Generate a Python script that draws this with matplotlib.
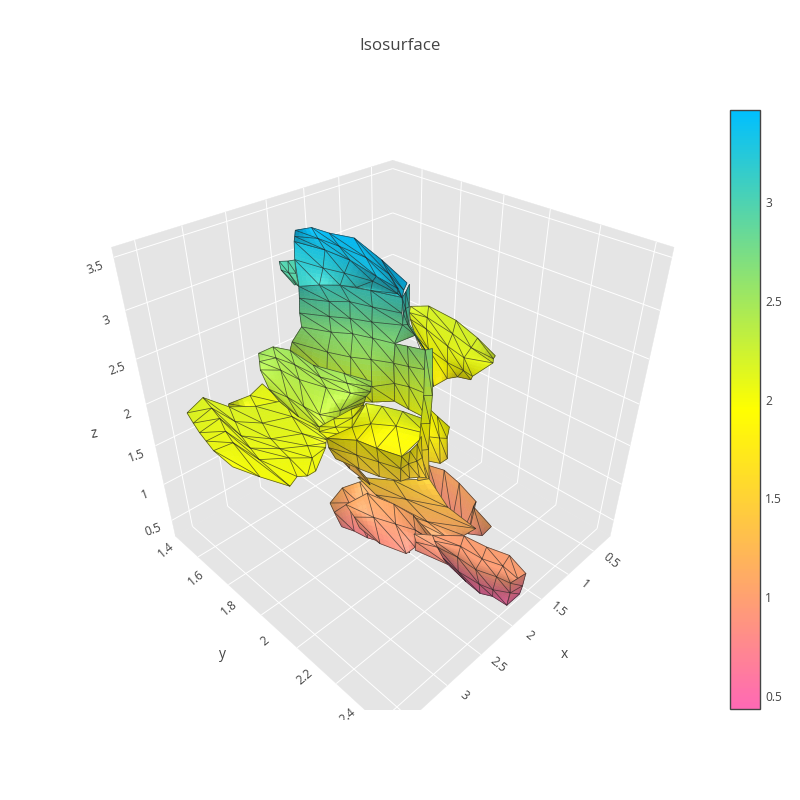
import numpy as np
import matplotlib
matplotlib.use('Agg')
import matplotlib.pyplot as plt
from matplotlib.colors import LinearSegmentedColormap, Normalize
from matplotlib.cm import ScalarMappable
from matplotlib.patches import Rectangle
from mpl_toolkits.mplot3d import proj3d
from mpl_toolkits.mplot3d.art3d import Poly3DCollection, Line3DCollection

plt.rcParams['font.family'] = ['Open Sans', 'DejaVu Sans']
TXT = '#444444'

x_range = (0.157, 3.73)
y_range = (1.24, 2.46)
z_range = (0.268, 3.59)
x_ticks = [0.5, 1, 1.5, 2, 2.5, 3, 3.5]
y_ticks = [1.4, 1.6, 1.8, 2, 2.2, 2.4]
z_ticks = [0.5, 1, 1.5, 2, 2.5, 3, 3.5]
cb_ticks = [0.5, 1, 1.5, 2, 2.5, 3]
cb_labels = ['0.5', '1', '1.5', '2', '2.5', '3']
value_min, value_max = 0.434, 3.466

# surface pieces, rows of vertices, z is one value per row
pink_back_x = [[1.52,1.46,1.51,1.61,1.69,1.79],[1.59,1.67,1.77,1.84,1.81,1.73]]
pink_back_y = [[1.90,1.96,2.05,2.16,2.17,2.28],[1.90,2.01,2.10,2.17,2.19,2.23]]
pink_back_z = [1.1,0.85]
pink_left_x = [[2.75,2.50,2.30,2.07,2.03],[2.70,2.49,2.43,2.36,2.36],[2.61,2.56,2.53,2.44,2.37]]
pink_left_y = [[1.81,1.78,1.80,1.86,1.98],[1.81,1.81,1.88,1.96,2.08],[1.81,1.86,1.92,1.99,2.08]]
pink_left_z = [1.15,1.0,0.75]
neck_x = [[2.56,2.34,2.07],[2.45,2.28,2.07],[2.35,2.24,1.97],[2.28,2.18,2.04]]
neck_y = [[1.89,1.99,2.07],[1.94,2.03,2.16],[2.02,2.12,2.26],[2.15,2.19,2.23]]
neck_z = [1.5,1.3,1.15,1.05]
pink_under_x = [[2.20,2.28,2.38],[2.23,2.31,2.34]]
pink_under_y = [[1.58,1.73,1.87],[1.62,1.75,1.87]]
pink_under_z = [1.35,1.25]
pink_front_x = [[2.61,2.33,2.25,2.23,2.31],[2.60,2.46,2.37,2.29,2.28],[2.56,2.57,2.48,2.35,2.16]]
pink_front_y = [[1.84,1.85,1.96,2.05,2.16],[1.88,1.93,2.01,2.08,2.15],[1.89,2.00,2.10,2.10,2.11]]
pink_front_z = [1.1,1.0,0.85]
tail_left_x = [[2.34,2.22],[2.37,2.27],[2.38,2.29]]
tail_left_y = [[2.09,2.14],[2.11,2.18],[2.11,2.24]]
tail_left_z = [1.0,0.95,0.85]
tail_x = [[2.22,2.00,1.96,1.89,1.97],[2.25,2.12,2.10,2.03,2.06],[2.27,2.23,2.23,2.16,2.13],
          [2.10,2.13,2.11,2.07,1.98],[2.01,2.06,2.08,2.02,2.01]]
tail_y = [[2.14,2.22,2.31,2.39,2.48],[2.16,2.24,2.33,2.40,2.47],[2.18,2.26,2.34,2.41,2.46],
          [2.16,2.24,2.33,2.38,2.43],[2.16,2.26,2.33,2.37,2.43]]
tail_z = [1.0,0.98,0.95,0.65,0.5]
tail_cap_x = [[2.09,1.88],[2.02,1.86],[2.01,1.80]]
tail_cap_y = [[2.45,2.46],[2.44,2.45],[2.43,2.43]]
tail_cap_z = [0.9,0.7,0.5]
wing_right_x = [[0.56,0.40,0.44,0.58,0.74],[0.61,0.55,0.63,0.72,0.73],[0.65,0.69,0.81,0.87,0.73],
                [0.73,0.87,0.94,0.94,0.96],[0.87,1.16,0.93,0.82,0.76]]
wing_right_y = [[1.48,1.53,1.69,1.84,1.97],[1.49,1.57,1.73,1.85,1.96],[1.51,1.61,1.76,1.86,1.96],
                [1.56,1.68,1.80,1.88,1.93],[1.70,1.80,1.80,1.82,1.87]]
wing_right_z = [2.2,2.15,2.1,2.0,1.8]
stub_x = [[1.74,1.78,1.83],[1.93,1.87,1.82],[1.97,1.91,1.80]]
stub_y = [[1.96,2.01,2.08],[2.02,2.05,2.07],[2.03,2.07,2.07]]
stub_z = [2.0,1.85,1.6]
tower_x = [[2.38,2.22,2.08,1.95,1.84],[2.34,2.18,2.04,1.96,1.85],[2.35,2.19,2.07,1.97,1.80],
           [2.34,2.20,2.07,1.99,1.91],[2.43,2.31,2.21,2.10,1.99],[2.33,2.31,2.22,2.15,1.95],
           [2.29,2.34,2.26,2.12,1.95]]
tower_y = [[1.56,1.60,1.65,1.75,1.86],[1.54,1.63,1.68,1.76,1.86],[1.54,1.63,1.69,1.76,1.85],
           [1.54,1.64,1.70,1.77,1.85],[1.52,1.66,1.74,1.80,1.87],[1.45,1.65,1.74,1.82,1.86],
           [1.42,1.66,1.75,1.81,1.86]]
tower_z = [3.1,2.95,2.8,2.65,2.5,2.25,2.05]
panel_x = [[1.91,1.86,1.79],[1.93,1.87,1.80],[1.95,1.89,1.86],[1.95,1.95,1.94]]
panel_y = [[1.85,1.89,1.95],[1.85,1.90,1.95],[1.86,1.91,1.98],[1.86,1.93,2.01]]
panel_z = [2.65,2.45,2.25,2.05]
shoulder_x = [[2.00,1.89,1.75],[1.92,1.83,1.78],[1.87,1.83,1.81],[1.98,1.72,1.86]]
shoulder_y = [[1.91,1.89,1.86],[1.89,1.87,1.87],[1.87,1.88,1.88],[1.87,1.88,1.97]]
shoulder_z = [3.2,3.0,2.85,2.7]
fin_lower_x = [[2.06,1.98,1.97,2.04,2.08,2.18],[2.16,2.09,2.02,1.95,1.97,2.00],[2.38,2.22,2.08,2.00,1.95,1.84]]
fin_lower_y = [[1.41,1.54,1.66,1.81,1.92,1.97],[1.45,1.57,1.65,1.76,1.88,1.91],[1.56,1.60,1.65,1.70,1.75,1.86]]
fin_lower_z = [3.32,3.2,3.1]
fin_top_x = [[2.08,1.92,1.89,1.80,1.97,2.15],[2.07,1.94,1.92,1.92,2.02,2.16],[2.06,1.98,1.97,2.04,2.08,2.18]]
fin_top_y = [[1.43,1.45,1.53,1.62,1.81,1.98],[1.42,1.49,1.59,1.72,1.86,1.97],[1.41,1.54,1.66,1.81,1.92,1.97]]
fin_top_z = [3.45,3.38,3.32]
tab_x = [[2.01,1.94,1.87],[2.06,2.05,2.00],[2.12,2.10,2.11]]
tab_y = [[1.29,1.31,1.32],[1.32,1.36,1.38],[1.42,1.42,1.44]]
tab_z = [3.0,2.95,2.9]
wing_back_x = [[3.21,2.97,2.75],[3.20,3.02,2.77]]
wing_back_y = [[1.49,1.50,1.47],[1.48,1.56,1.60]]
wing_back_z = [2.1,2.05]
wing_front_x = [[3.63,3.37,3.28,3.09,2.83,2.86],[3.66,3.39,3.36,3.19,2.92,2.88],[3.69,3.42,3.44,3.27,3.01,2.91],
                [3.70,3.48,3.47,3.28,3.07,2.92],[3.72,3.52,3.50,3.29,3.14,2.95],[3.70,3.61,3.50,3.37,3.30,3.20]]
wing_front_y = [[1.46,1.42,1.53,1.59,1.63,1.83],[1.51,1.48,1.60,1.67,1.71,1.85],[1.56,1.54,1.67,1.75,1.80,1.88],
                [1.60,1.60,1.73,1.80,1.85,1.88],[1.65,1.66,1.79,1.85,1.90,1.89],[1.74,1.84,1.94,1.92,1.94,1.94]]
wing_front_z = [2.15,2.12,2.1,2.07,2.05,2.0]
lobe_x = [[2.81,2.63,2.55,2.57,2.46,2.37],[2.85,2.69,2.64,2.61,2.50,2.38],[2.89,2.75,2.73,2.64,2.54,2.39],
          [2.95,2.91,2.90,2.88,2.70,2.37],[2.92,2.95,2.92,2.87,2.69,2.34]]
lobe_y = [[1.50,1.50,1.56,1.69,1.80,1.90],[1.52,1.54,1.62,1.74,1.83,1.90],[1.54,1.59,1.68,1.78,1.86,1.90],
          [1.61,1.69,1.77,1.84,1.87,1.87],[1.65,1.76,1.85,1.87,1.86,1.85]]
lobe_z = [2.5,2.45,2.4,2.3,2.2]
lattice_x = [[2.82,2.64,2.41,2.23],[2.83,2.67,2.45,2.22],[2.80,2.67,2.51,2.18]]
lattice_y = [[1.81,1.81,1.81,1.81],[1.81,1.83,1.83,1.80],[1.84,1.85,1.85,1.79]]
lattice_z = [2.1,2.05,2.0]
block_top_x = [[2.29,2.21,2.13,2.07],[2.51,2.34,2.19,2.07],[2.67,2.48,2.43,2.35]]
block_top_y = [[1.84,1.89,1.96,2.05],[1.85,1.88,1.95,2.05],[1.78,1.86,1.94,2.03]]
block_top_z = [2.15,2.0,1.85]
block_front_x = [[2.67,2.48,2.43,2.35],[2.58,2.46,2.38,2.30],[2.52,2.46,2.40,2.30]]
block_front_y = [[1.78,1.86,1.94,2.03],[1.75,1.85,1.93,2.01],[1.76,1.86,1.94,2.01]]
block_front_z = [1.85,1.65,1.5]
block_side_x = [[2.35,2.23,2.10,1.98],[2.30,2.19,2.10,2.02],[2.30,2.20,2.12,2.08]]
block_side_y = [[2.03,2.03,2.02,2.00],[2.01,2.01,2.02,2.02],[2.01,2.02,2.04,2.06]]
block_side_z = [1.85,1.65,1.5]
sliver_x = [[1.86,1.79],[1.96,1.90],[1.99,1.92],[2.01,1.93],[2.08,1.97]]
sliver_y = [[1.97,1.98],[2.00,2.02],[2.00,2.02],[2.00,2.02],[2.02,2.04]]
sliver_z = [2.7,2.3,2.0,1.7,1.4]

# back to front, painted in this order
pieces = [
    (pink_back_x, pink_back_y, pink_back_z),
    (pink_left_x, pink_left_y, pink_left_z),
    (neck_x, neck_y, neck_z),
    (pink_under_x, pink_under_y, pink_under_z),
    (pink_front_x, pink_front_y, pink_front_z),
    (tail_left_x, tail_left_y, tail_left_z),
    (tail_x, tail_y, tail_z),
    (tail_cap_x, tail_cap_y, tail_cap_z),
    (wing_right_x, wing_right_y, wing_right_z),
    (stub_x, stub_y, stub_z),
    (tower_x, tower_y, tower_z),
    (panel_x, panel_y, panel_z),
    (shoulder_x, shoulder_y, shoulder_z),
    (fin_lower_x, fin_lower_y, fin_lower_z),
    (fin_top_x, fin_top_y, fin_top_z),
    (tab_x, tab_y, tab_z),
    (wing_back_x, wing_back_y, wing_back_z),
    (wing_front_x, wing_front_y, wing_front_z),
    (lobe_x, lobe_y, lobe_z),
    (lattice_x, lattice_y, lattice_z),
    (block_top_x, block_top_y, block_top_z),
    (block_front_x, block_front_y, block_front_z),
    (sliver_x, sliver_y, sliver_z),
    (block_side_x, block_side_y, block_side_z),
]

cmap = LinearSegmentedColormap.from_list('iso', ['hotpink', 'yellow', 'deepskyblue'])
norm = Normalize(value_min, value_max)

fig = plt.figure(figsize=(8, 8), dpi=100, facecolor='white')
ax = fig.add_axes([93.4/800, 90.4/800, 583/800, 583/800], projection='3d', computed_zorder=False)
ax.set_proj_type('persp', focal_length=0.246)
ax.view_init(elev=35, azim=45)
ax.set_xlim(*x_range, view_margin=0)
ax.set_ylim(*y_range, view_margin=0)
ax.set_zlim(*z_range, view_margin=0)
ax.set_box_aspect((1, 1, 1))
ax.set_axis_off()
ax.patch.set_alpha(0)

x0, x1 = x_range
y0, y1 = y_range
z0, z1 = z_range
walls = [[(x0,y0,z0),(x1,y0,z0),(x1,y0,z1),(x0,y0,z1)],
         [(x0,y0,z0),(x0,y1,z0),(x0,y1,z1),(x0,y0,z1)],
         [(x0,y0,z0),(x1,y0,z0),(x1,y1,z0),(x0,y1,z0)]]
ax.add_collection3d(Poly3DCollection(walls, facecolors='#e5e5e5', edgecolors='#e5e5e5', linewidths=0.3, zorder=1))
grid = []
for v in x_ticks:
    grid += [[(v,y0,z0),(v,y0,z1)], [(v,y0,z0),(v,y1,z0)]]
for v in y_ticks:
    grid += [[(x0,v,z0),(x0,v,z1)], [(x0,v,z0),(x1,v,z0)]]
for v in z_ticks:
    grid += [[(x0,y0,v),(x1,y0,v)], [(x0,y0,v),(x0,y1,v)]]
ax.add_collection3d(Line3DCollection(grid, colors='white', linewidths=0.7, zorder=2))

el, az = np.radians(35), np.radians(45)
view = np.array([np.cos(el)*np.cos(az), np.cos(el)*np.sin(az), np.sin(el)])
light = np.array([0.35, 0.35, 1.0])
light /= np.linalg.norm(light)
half = view + light
half /= np.linalg.norm(half)
box_low = np.array([x0, y0, z0])
box_size = np.array([x1 - x0, y1 - y0, z1 - z0])


def draw_piece(P, zo, sub=5):
    nr, nc = P.shape[:2]
    Q = (P - box_low) / box_size
    N = np.cross(np.gradient(Q, axis=0), np.gradient(Q, axis=1))
    N /= np.maximum(np.linalg.norm(N, axis=2, keepdims=True), 1e-9)
    N[(N @ view) < 0] *= -1
    polys = []
    cols = []
    s = np.linspace(0, 1, sub + 1)
    for i in range(nr - 1):
        for j in range(nc - 1):
            def bil(F, u, v):
                return (1-u)*(1-v)*F[i,j] + (1-u)*v*F[i,j+1] + u*(1-v)*F[i+1,j] + u*v*F[i+1,j+1]
            for a in range(sub):
                for b in range(sub):
                    polys.append([bil(P, s[a], s[b]), bil(P, s[a], s[b+1]), bil(P, s[a+1], s[b+1]), bil(P, s[a+1], s[b])])
                    u, v = s[a] + 0.5/sub, s[b] + 0.5/sub
                    n = bil(N, u, v)
                    n /= max(np.linalg.norm(n), 1e-9)
                    base = np.array(cmap(norm(bil(P, u, v)[2]))[:3])
                    c = base * (0.70 + 0.30 * max(n @ light, 0)) + 0.10 * max(n @ half, 0) ** 30
                    cols.append(np.clip(c, 0, 1))
    ax.add_collection3d(Poly3DCollection(polys, facecolors=cols, edgecolors=cols, linewidths=0.4, zorder=zo, shade=False))
    wires = []
    for i in range(nr):
        for j in range(nc - 1):
            wires.append([P[i,j], P[i,j+1]])
    for i in range(nr - 1):
        for j in range(nc):
            wires.append([P[i,j], P[i+1,j]])
        for j in range(nc - 1):
            wires.append([P[i,j], P[i+1,j+1]])
    ax.add_collection3d(Line3DCollection(wires, colors='#222222', linewidths=0.55, alpha=0.7, zorder=zo + 0.5))


for k, (xs, ys, zs) in enumerate(pieces):
    xs = np.array(xs, float)
    ys = np.array(ys, float)
    zz = np.repeat(np.array(zs, float)[:, None], xs.shape[1], axis=1)
    draw_piece(np.dstack([xs, ys, zz]), 10 + k)

M = ax.get_proj()


def tick_label(x, y, z, text, dx, dy, rot):
    X, Y, _ = proj3d.proj_transform(x, y, z, M)
    ax.annotate(text, (X, Y), xytext=(dx, dy), textcoords='offset pixels', ha='center', va='center',
                rotation=rot, color=TXT, fontsize=8.64, annotation_clip=False)


for v in x_ticks:
    tick_label(v, y1, z0, str(v), 17, -10, -40)
for v in y_ticks:
    tick_label(x1, v, z0, str(v), -32, 7, 40)
for v in z_ticks:
    tick_label(x1, y0, v, str(v), -19, -10, 20)

fig.text(564/800, 1-655/800, 'x', color=TXT, fontsize=10, ha='center', va='center')
fig.text(222/800, 1-655/800, 'y', color=TXT, fontsize=10, ha='center', va='center')
fig.text(94/800, 1-434/800, 'z', color=TXT, fontsize=10, ha='center', va='center', rotation=10)
fig.text(0.5, 1-46/800, 'Isosurface', color=TXT, fontsize=12.2, ha='center', va='center')

# the scene is cut off at the bottom of its box
fig.add_artist(Rectangle((0, 0), 1, 80/800, transform=fig.transFigure, facecolor='white', edgecolor='none', zorder=20))

cax = fig.add_axes([730/800, 1-709/800, 29.5/800, 599/800])
cb = fig.colorbar(ScalarMappable(norm=norm, cmap=cmap), cax=cax, ticks=cb_ticks)
cb.ax.set_yticklabels(cb_labels, color=TXT, fontsize=8.64)
cb.ax.tick_params(length=0, pad=4)
cb.outline.set_edgecolor(TXT)
cb.outline.set_linewidth(1)

fig.savefig('out.png', dpi=100)
